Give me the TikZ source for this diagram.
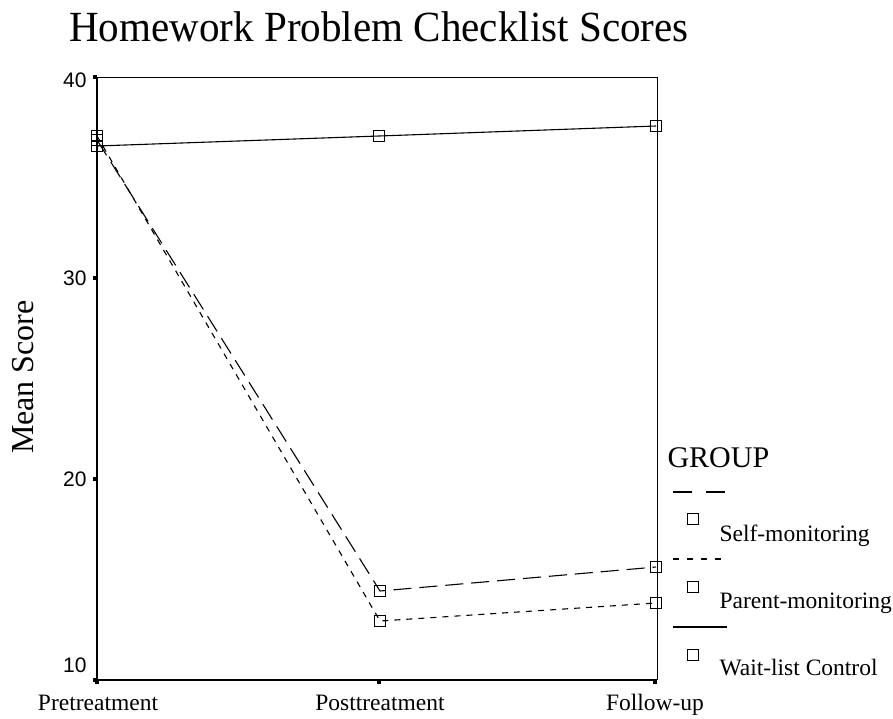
\documentclass[tikz,border=0pt]{standalone}
\usepackage{fontspec}
\setmainfont{Liberation Serif}
\newfontfamily\axisfont{Liberation Sans}
\begin{document}
\begin{tikzpicture}[x=1pt,y=-1pt,
  mk/.style={draw=black,line width=1.1pt,minimum size=11pt,inner sep=0pt,rectangle},
  selfln/.style={line width=1.1pt,dash pattern=on 18pt off 8pt},
  parln/.style={line width=1.1pt,dash pattern=on 6pt off 6pt},
  waitln/.style={line width=1.1pt},
  tick/.style={fill=black,minimum size=4pt,inner sep=0pt},
  ylab/.style={font=\axisfont\fontsize{21}{24}\selectfont,anchor=east},
  xlab/.style={font=\fontsize{23.5}{26}\selectfont,anchor=base},
  leglab/.style={font=\fontsize{23.5}{26}\selectfont,anchor=base west}]
\useasboundingbox (0,0) rectangle (893,718);
% frame
\coordinate (tl) at (97,77);
\coordinate (tr) at (657,77);
\coordinate (bl) at (97,680);
\coordinate (br) at (657,680);
\draw[line width=1pt] (tl) -- (tr) -- (br);
\draw[line width=2pt] (tl) -- (bl) -- (br);
% y ticks
\node[tick] (t40) at (95,77) {};
\node[tick] (t30) at (95,278) {};
\node[tick] (t20) at (95,479) {};
\node[tick] (t10) at (95,680) {};
\node[ylab] at (90,80) {40};
\node[ylab] at (90,278) {30};
\node[ylab] at (90,479) {20};
\node[ylab] at (90,665) {10};
% x ticks
\node[tick] (xt1) at (97,682) {};
\node[tick] (xt2) at (379,682) {};
\node[tick] (xt3) at (655,682) {};
\node[xlab] at (98,710) {Pretreatment};
\node[xlab] at (380,710) {Posttreatment};
\node[xlab] at (655,710) {Follow-up};
% title
\node[font=\fontsize{43}{46}\selectfont,anchor=base] at (379,41) {\scalebox{0.955}[1]{Homework Problem Checklist Scores}};
% axis title
\node[font=\fontsize{32}{36}\selectfont,rotate=90] at (23,377) {Mean Score};
% data markers
\node[mk] (s1) at (97,140) {};
\node[mk] (s2) at (380,591) {};
\node[mk] (s3) at (656,567) {};
\node[mk] (p1) at (97,136) {};
\node[mk] (p2) at (380,621) {};
\node[mk] (p3) at (656,603) {};
\node[mk] (w1) at (97,146) {};
\node[mk] (w2) at (379,136) {};
\node[mk] (w3) at (656,126) {};
% data lines
\draw[selfln] (s1.center) -- (s2.center) -- (s3.center);
\draw[parln] (p1.center) -- (p2.center) -- (p3.center);
\draw[waitln] (w1.center) -- (w2.center) -- (w3.center);
% legend
\node[font=\fontsize{30}{33}\selectfont,anchor=base west] (grp) at (664,467) {GROUP};
\coordinate (l1a) at (673,492); \coordinate (l1b) at (727,492);
\draw[selfln,dash pattern=on 19pt off 14pt] (l1a) -- (l1b);
\node[mk] (lm1) at (693,519) {};
\node[leglab] (lt1) at (716,541) {Self-monitoring};
\coordinate (l2a) at (673,559); \coordinate (l2b) at (727,559);
\draw[parln,dash pattern=on 6pt off 8pt] (l2a) -- (l2b);
\node[mk] (lm2) at (693,587) {};
\node[leglab] (lt2) at (716,608) {Parent-monitoring};
\coordinate (l3a) at (673,627); \coordinate (l3b) at (727,627);
\draw[waitln] (l3a) -- (l3b);
\node[mk] (lm3) at (693,655) {};
\node[leglab] (lt3) at (716,675) {Wait-list Control};
\end{tikzpicture}
\end{document}
